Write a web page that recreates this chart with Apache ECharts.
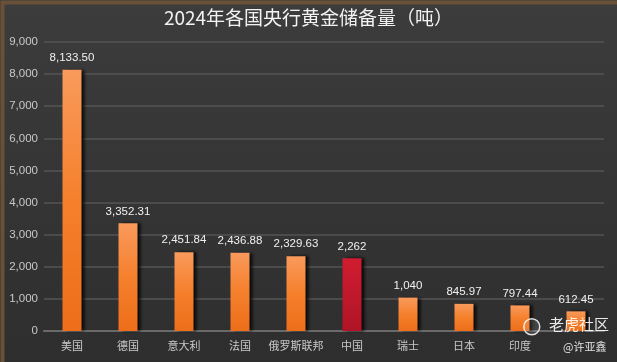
<!DOCTYPE html>
<html><head><meta charset="utf-8">
<script src="https://cdn.jsdelivr.net/npm/echarts@6/dist/echarts.min.js"></script>
<style>html,body{margin:0;padding:0;background:#2a2420;}#c{width:617px;height:362px;}</style>
</head><body><div id="c"></div>
<script>
const categories = ['美国','德国','意大利','法国','俄罗斯联邦','中国','瑞士','日本','印度',''];
const values = [8133.50, 3352.31, 2451.84, 2436.88, 2329.63, 2262, 1040, 845.97, 797.44, 612.45];
const valueLabels = ['8,133.50','3,352.31','2,451.84','2,436.88','2,329.63','2,262','1,040','845.97','797.44','612.45'];
const highlightIndex = 5;
const title = '2024年各国央行黄金储备量（吨）';

const chart = echarts.init(document.getElementById('c'), null, {renderer:'canvas'});
const orange = new echarts.graphic.LinearGradient(0,0,0,1,[{offset:0,color:'#f99a5c'},{offset:0.5,color:'#f5802c'},{offset:1,color:'#ee6e1a'}]);
const red = new echarts.graphic.LinearGradient(0,0,0,1,[{offset:0,color:'#d01c30'},{offset:1,color:'#b01426'}]);
chart.setOption({
  backgroundColor: new echarts.graphic.LinearGradient(0,0,0,1,[{offset:0,color:'#3c3c3c'},{offset:1,color:'#2e2e2e'}]),
  animation:false,
  title:{text:title,left:'center',top:3,textStyle:{color:'#f2f2f2',fontSize:19,fontWeight:'normal',fontFamily:'Noto Sans CJK SC'}},
  grid:{left:44,right:13,top:42,bottom:31},
  xAxis:{type:'category',data:categories,
    axisLine:{lineStyle:{color:'#6a6a6a',width:2}},axisTick:{show:false},
    axisLabel:{interval:0,color:'#c8c8c8',fontSize:11,margin:9,fontFamily:'Noto Sans CJK SC'}},
  yAxis:{type:'value',min:0,max:9000,interval:1000,
    axisLabel:{color:'#c8c8c8',fontSize:11.5,margin:6,fontFamily:'Liberation Sans',formatter:v=>v.toLocaleString('en-US')},
    splitLine:{lineStyle:{color:'#555555',width:1.5}},axisLine:{show:false},axisTick:{show:false}},
  series:[{type:'bar',barWidth:19,
    data:values.map((v,i)=>({value:v,itemStyle:{color:i===highlightIndex?red:orange}})),
    itemStyle:{shadowColor:'rgba(0,0,0,0.8)',shadowBlur:3,shadowOffsetX:3},
    label:{show:true,position:'top',distance:6,color:'#f0f0f0',fontSize:11.5,fontFamily:'Liberation Sans',
      formatter:p=>valueLabels[p.dataIndex]}}],
  graphic:[
    {type:'circle',z:100,left:523,top:318,shape:{r:8},style:{fill:'rgba(255,255,255,0.1)',stroke:'rgba(255,255,255,0.85)',lineWidth:1.5}},
    {type:'text',z:100,left:549,top:317,style:{text:'老虎社区',fill:'rgba(255,255,255,0.9)',fontSize:15,fontFamily:'Noto Sans CJK SC'}},
    {type:'text',z:100,left:563,top:341,style:{text:'@许亚鑫',fill:'rgba(255,255,255,0.85)',fontSize:11,fontFamily:'Noto Sans CJK SC'}},
    {type:'rect',z:100,left:0,top:0,shape:{width:617,height:362},style:{fill:'none',stroke:'#6b5038',lineWidth:4}}
  ]
});
</script></body></html>
